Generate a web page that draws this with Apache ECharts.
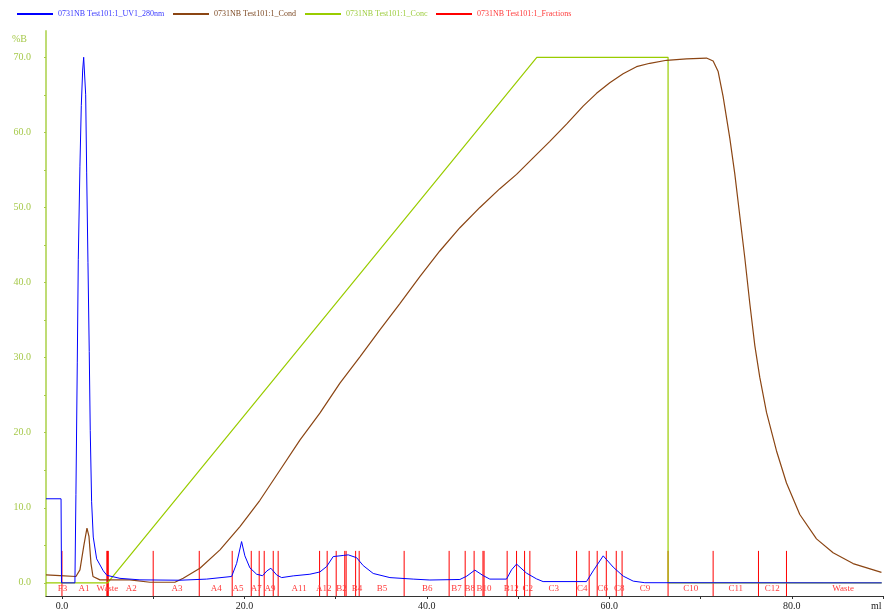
<!DOCTYPE html>
<html>
<head>
<meta charset="utf-8">
<script src="https://cdn.jsdelivr.net/npm/echarts@6/dist/echarts.min.js"></script>
<style>
  html, body { margin: 0; padding: 0; background: #fff; }
  #chart1 { width: 890px; height: 610px; }
</style>
</head>
<body>
<div id="chart1"></div>
<script>
// run 0731NB Test101:1 (x in ml, y in %B scale units)
const uvData = [
  [-1.75, 11.2], [-0.1, 11.2], [-0.05, 0], [1.42, 0], [1.53, 11.8], [1.68, 29.4], [1.79, 43.1],
  [1.97, 55.5], [2.12, 63.6], [2.27, 68.3], [2.38, 70.0], [2.49, 70.0], [2.60, 65.0], [2.71, 54.6],
  [2.85, 42.7], [2.99, 30.8], [3.10, 20.3], [3.25, 10.8], [3.43, 6.1], [3.80, 3.2], [4.53, 1.6],
  [4.93, 1.0], [6.36, 0.6], [8.55, 0.4], [12.93, 0.35], [15.86, 0.5], [18.6, 0.85], [19.15, 2.6],
  [19.69, 5.5], [20.05, 3.6], [20.6, 2.0], [21.34, 1.15], [21.99, 0.95], [22.47, 1.6], [22.9, 1.95],
  [23.53, 1.06], [24.08, 0.7], [25.35, 0.93], [27.18, 1.15], [28.27, 1.45], [29.01, 2.17], [29.73, 3.5],
  [30.83, 3.65], [31.38, 3.73], [32.3, 3.35], [33.02, 2.3], [34.12, 1.25], [35.95, 0.7], [38.5, 0.5],
  [40.33, 0.38], [43.62, 0.45], [44.38, 0.9], [45.26, 1.7], [46.17, 0.97], [46.9, 0.5], [48.73, 0.5],
  [49.28, 1.73], [49.83, 2.5], [50.93, 1.29], [52.02, 0.53], [52.74, 0.17], [57.5, 0.17], [58.23, 1.6],
  [59.33, 3.6], [60.42, 2.1], [61.52, 0.9], [62.62, 0.23], [63.89, 0.02], [89.86, 0.0]
];
const condData = [
  [-1.75, 1.06], [-0.22, 0.97], [1.53, 0.85], [1.97, 1.73], [2.41, 5.06], [2.74, 7.3], [2.96, 6.2],
  [3.18, 2.6], [3.40, 0.85], [4.16, 0.4], [7.45, 0.4], [9.64, 0.08], [12.38, 0.08], [13.29, 0.62],
  [15.12, 1.95], [17.32, 4.4], [19.51, 7.5], [21.70, 11.0], [23.89, 15.0], [26.08, 19.0], [28.27, 22.6],
  [30.47, 26.6], [32.66, 30.1], [34.85, 33.7], [37.04, 37.2], [39.23, 40.8], [41.42, 44.2], [43.62, 47.3],
  [45.81, 50.0], [48.0, 52.5], [49.83, 54.4], [51.65, 56.6], [53.48, 58.8], [55.31, 61.1], [57.13, 63.5],
  [58.6, 65.2], [60.05, 66.6], [61.51, 67.8], [62.98, 68.75], [64.44, 69.2], [66.27, 69.6], [68.46, 69.8],
  [70.65, 69.9], [71.38, 69.5], [71.93, 68.1], [72.47, 64.8], [73.21, 59.2], [73.75, 54.5], [74.3, 48.9],
  [74.85, 43.3], [75.4, 37.2], [75.95, 31.6], [76.49, 27.4], [77.23, 22.7], [78.32, 17.6], [79.42, 13.3],
  [80.88, 9.1], [82.71, 5.86], [84.53, 4.0], [86.72, 2.57], [89.83, 1.4]
];
const concData = [
  [-1.75, 0], [5.0, 0], [52.05, 70], [66.44, 70], [66.44, 0], [89.86, 0]
];
const fractionPos = [
  0.0, 4.92, 5.0, 5.08, 10.0, 15.05, 18.66, 20.75, 21.62, 22.17, 23.16, 23.70, 28.24, 29.07,
  30.06, 31.0, 31.15, 32.19, 32.58, 37.51, 42.44, 44.20, 45.18, 46.15, 46.27, 48.80, 49.83,
  50.71, 51.29, 56.41, 57.79, 58.67, 59.67, 60.76, 61.40, 66.44, 71.38, 76.35, 79.42
];
const fractionLabels = ['F3', 'A1', 'Waste', 'A2', 'A3', 'A4', 'A5', 'A7', 'A9', 'A11', 'A12', 'B2', 'B4',
  'B5', 'B6', 'B7', 'B8', 'B10', 'B12', 'C2', 'C3', 'C4', 'C6', 'C8', 'C9', 'C10', 'C11', 'C12', 'Waste'];
const fractionLabelPos = [0.05, 2.41, 4.99, 7.6, 12.6, 16.9, 19.3, 21.3, 22.8, 26.0, 28.7, 30.65, 32.35,
  35.07, 40.05, 43.25, 44.71, 46.25, 49.24, 51.05, 53.9, 57.04, 59.29, 61.1, 63.9, 68.93, 73.86, 77.86, 85.62];
const yLabelValues = [0, 10, 20, 30, 40, 50, 60, 70];
const yTickValues = [0, 5, 10, 15, 20, 25, 30, 35, 40, 45, 50, 55, 60, 65, 70];
const xLabelValues = [0, 20, 40, 60, 80];
const xTickValues = [0, 10, 20, 30, 40, 50, 60, 70, 80, 90];

const names = ['0731NB Test101:1_UV1_280nm', '0731NB Test101:1_Cond', '0731NB Test101:1_Conc', '0731NB Test101:1_Fractions'];
const colors = ['#0000ff', '#8b4513', '#99cc00', '#ff0000'];
const legendText = ['#3a3aff', '#7d4a24', '#9ccc3c', '#ff3a3a'];
const legendLeft = [17, 173, 305, 436];
const serif = "'Liberation Serif', 'Times New Roman', serif";
const fracTop = 4.26;

let option = {
    animation: false,
    legend: names.map(function (n, i) {
        return {
            data: [{name: n, icon: 'rect'}],
            left: legendLeft[i],
            top: 10,
            padding: 0,
            itemWidth: 36,
            itemHeight: 2,
            textStyle: {color: legendText[i], fontSize: 8, fontFamily: serif},
            selectedMode: false
        };
    }),
    grid: {left: 46, right: 7, top: 31, bottom: 14, outerBoundsMode: 'none'},
    xAxis: {
        type: 'value',
        min: -1.75,
        max: 90,
        name: 'ml',
        nameLocation: 'end',
        nameGap: -12,
        nameTextStyle: {color: '#222', fontSize: 10, fontFamily: serif, verticalAlign: 'top', padding: [5, 0, 0, 0]},
        splitLine: {show: false},
        axisLine: {onZero: false, lineStyle: {color: '#333', width: 1}},
        axisTick: {customValues: xTickValues, length: 3, lineStyle: {color: '#333'}},
        axisLabel: {
            customValues: xLabelValues,
            margin: 5,
            color: '#222',
            fontSize: 10,
            fontFamily: serif,
            formatter: function (v) { return v.toFixed(1); }
        }
    },
    yAxis: {
        type: 'value',
        min: -1.75,
        max: 73.5,
        name: '%B',
        nameLocation: 'end',
        nameGap: -8,
        nameTextStyle: {color: '#a6c94a', fontSize: 10, fontFamily: serif, align: 'right', verticalAlign: 'middle', padding: [0, 19, 0, 0]},
        splitLine: {show: false},
        axisLine: {show: true, onZero: false, lineStyle: {color: '#bfdc74', width: 2}},
        axisTick: {customValues: yTickValues, length: 2, lineStyle: {color: '#a6c94a'}},
        axisLabel: {
            customValues: yLabelValues,
            margin: 15,
            color: '#a6c94a',
            fontSize: 10,
            fontFamily: serif,
            formatter: function (v) { return v.toFixed(1); }
        }
    },
    series: [{
        name: names[3],
        type: 'custom',
        color: colors[3],
        itemStyle: {color: colors[3]},
        data: fractionPos.map(function (x) { return [x, 0]; }),
        encode: {x: 0, y: 1},
        renderItem: function (params, api) {
            let x = api.value(0);
            let p1 = api.coord([x, fracTop]);
            let p2 = api.coord([x, -1.75]);
            return {
                type: 'line',
                shape: {x1: p1[0], y1: p1[1], x2: p2[0], y2: p2[1]},
                style: {stroke: colors[3], lineWidth: 1}
            };
        },
        z: 1
    }, {
        name: 'fraction labels',
        type: 'custom',
        data: fractionLabelPos.map(function (x) { return [x, -0.75]; }),
        encode: {x: 0, y: 1},
        renderItem: function (params, api) {
            let p = api.coord([api.value(0), api.value(1)]);
            return {
                type: 'text',
                x: p[0],
                y: p[1],
                style: {
                    text: fractionLabels[params.dataIndex],
                    fill: '#ff3a3a',
                    font: '9px ' + serif,
                    textAlign: 'center',
                    textVerticalAlign: 'middle'
                }
            };
        },
        z: 5
    }, {
        name: names[2],
        type: 'line',
        color: colors[2],
        showSymbol: false,
        lineStyle: {color: colors[2], width: 1.2},
        data: concData,
        z: 2
    }, {
        name: names[1],
        type: 'line',
        color: colors[1],
        showSymbol: false,
        lineStyle: {color: colors[1], width: 1.2},
        data: condData,
        z: 3
    }, {
        name: names[0],
        type: 'line',
        color: colors[0],
        showSymbol: false,
        lineStyle: {color: colors[0], width: 1},
        data: uvData,
        z: 4
    }]
};

let myChart1 = echarts.init(document.getElementById('chart1'));
myChart1.setOption(option);
</script>
</body>
</html>
